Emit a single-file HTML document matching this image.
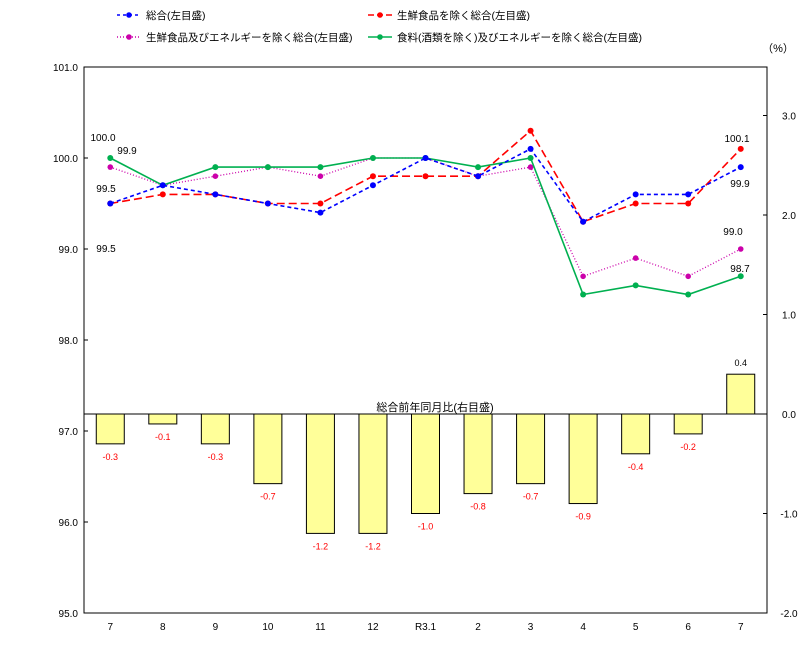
<!DOCTYPE html>
<html><head><meta charset="utf-8"><style>
body{margin:0;background:#fff;}
svg text{font-family:"Liberation Sans","Noto Sans CJK JP",sans-serif;}
</style></head><body>
<svg id="chart" width="809" height="642" xmlns="http://www.w3.org/2000/svg"></svg>
<script>
const categories=["7","8","9","10","11","12","R3.1","2","3","4","5","6","7"];
const sogo=[99.5,99.7,99.6,99.5,99.4,99.7,100.0,99.8,100.1,99.3,99.6,99.6,99.9];
const exFresh=[99.5,99.6,99.6,99.5,99.5,99.8,99.8,99.8,100.3,99.3,99.5,99.5,100.1];
const exFreshEnergy=[99.9,99.7,99.8,99.9,99.8,100.0,100.0,99.8,99.9,98.7,98.9,98.7,99.0];
const exFoodEnergy=[100.0,99.7,99.9,99.9,99.9,100.0,100.0,99.9,100.0,98.5,98.6,98.5,98.7];
const yoy=[-0.3,-0.1,-0.3,-0.7,-1.2,-1.2,-1.0,-0.8,-0.7,-0.9,-0.4,-0.2,0.4];
const leftTicks=[95,96,97,98,99,100,101];
const rightTicks=[-2,-1,0,1,2,3];

const L=84,R=767,T=67,B=613;
const svg=document.getElementById('chart');
const NS='http://www.w3.org/2000/svg';
function mk(tag,attrs,parent){const e=document.createElementNS(NS,tag);for(const k in attrs)e.setAttribute(k,attrs[k]);(parent||svg).appendChild(e);return e;}
const xPos=i=>L+(R-L)/categories.length*(i+0.5);
const yL=v=>B-(v-95)/6*(B-T);
const yR=v=>414-v*99.5;

const frame=mk('rect',{x:L,y:T,width:R-L,height:B-T,fill:'none',stroke:'#000','stroke-width':1});



leftTicks.forEach(v=>{
 const t=mk('text',{x:L-6,y:yL(v)+4,'font-size':10,'text-anchor':'end'});t.textContent=v.toFixed(1);
 
 
 mk('line',{x1:L,x2:L+4,y1:yL(v),y2:yL(v),stroke:'#000'});
});
rightTicks.forEach(v=>{
 const t=mk('text',{x:R+22,y:yR(v)+4,'font-size':10,'text-anchor':'middle'});t.textContent=v.toFixed(1);
 
 
 mk('line',{x1:R-4,x2:R,y1:yR(v),y2:yR(v),stroke:'#000'});
});
categories.forEach((c,i)=>{
 const t=mk('text',{x:xPos(i),y:630,'font-size':10,'text-anchor':'middle'});t.textContent=c;
 
 
});
const pct=mk('text',{x:778,y:52,'font-size':11,'text-anchor':'middle'});pct.textContent='（%）';



mk('line',{x1:L,x2:R,y1:yR(0),y2:yR(0),stroke:'#000'});
yoy.forEach((v,i)=>{
 const y0=yR(0),y1=yR(v);
 const b=mk('rect',{x:xPos(i)-14,y:Math.min(y0,y1),width:28,height:Math.abs(y1-y0),fill:'#ffff99',stroke:'#000','stroke-width':1});
 
 
 const t=mk('text',{x:xPos(i),y:v<0?y1+16:y1-8,'font-size':9,'text-anchor':'middle',fill:v<0?'#ff0000':'#000'});
 t.textContent=v.toFixed(1);
 
 
});
const bt=mk('text',{x:435,y:411,'font-size':11,'text-anchor':'middle'});bt.textContent='総合前年同月比(右目盛)';



function series(data,color,dash,name,mr){
 const g=mk('g',{});
 
 
 mk('polyline',{points:data.map((v,i)=>xPos(i)+','+yL(v)).join(' '),fill:'none',stroke:color,'stroke-width':dash==='1,2'?1.3:1.6,'stroke-dasharray':dash},g);
 data.forEach((v,i)=>{const c=mk('circle',{cx:xPos(i),cy:yL(v),r:mr,fill:color},g);
  
  });
}
series(exFreshEnergy,'#cc00aa','1,2','ex-fresh-energy-line',2.8);
series(exFoodEnergy,'#00b050','','ex-food-energy-line',3);
series(exFresh,'#ff0000','8,4','ex-fresh-line',3);
series(sogo,'#0000ff','4,3','sogo-line',3);

const labels=[[103,141,'100.0'],[127,154,'99.9'],[106,192,'99.5'],[106,252,'99.5'],[737,142,'100.1'],[740,187,'99.9'],[733,235,'99.0'],[740,272,'98.7']];
labels.forEach(l=>{const t=mk('text',{x:l[0],y:l[1],'font-size':10,'text-anchor':'middle'});t.textContent=l[2];
 
 });

function leg(x,y,color,dash,text,name){
 const g=mk('g',{});
 
 
 mk('line',{x1:x,x2:x+24,y1:y,y2:y,stroke:color,'stroke-width':1.5,'stroke-dasharray':dash},g);
 mk('circle',{cx:x+12,cy:y,r:2.8,fill:color},g);
 const t=mk('text',{x:x+29,y:y+4,'font-size':10.5},g);t.textContent=text;
}
leg(117,15,'#0000ff','3,3','総合(左目盛)','legend-sogo');
leg(368,15,'#ff0000','6,3','生鮮食品を除く総合(左目盛)','legend-ex-fresh');
leg(117,37,'#cc00aa','1,2','生鮮食品及びエネルギーを除く総合(左目盛)','legend-ex-fresh-energy');
leg(368,37,'#00b050','','食料(酒類を除く)及びエネルギーを除く総合(左目盛)','legend-ex-food-energy');
</script>
</body></html>
